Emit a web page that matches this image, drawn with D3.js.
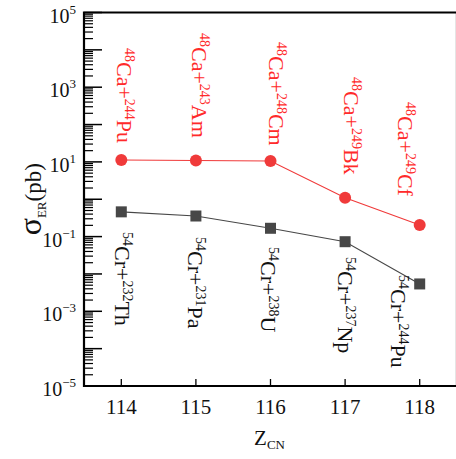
<!DOCTYPE html>
<html><head><meta charset="utf-8">
<script src="https://cdn.jsdelivr.net/npm/d3@7"></script>
</head><body style="margin:0">
<svg id="c" width="456" height="459"></svg>
<script>
// ---- data ----
const zCN = [114, 115, 116, 117, 118];
const caSigma = [11.2, 10.9, 10.6, 1.1, 0.205];
const crSigma = [0.46, 0.356, 0.167, 0.073, 0.0054];
const caTargetMass = ["244", "243", "248", "249", "249"];
const caTarget = ["Pu", "Am", "Cm", "Bk", "Cf"];
const crTargetMass = ["232", "231", "238", "237", "244"];
const crTarget = ["Th", "Pa", "U", "Np", "Pu"];
const caLabelZ = [114.04, 115.04, 116.07, 117.08, 117.80];
const caLabelTop = [11200, 28300, 16200, 1870, 400];
const crLabelZ = [114.01, 114.99, 115.97, 117.0, 117.71];
const crLabelTop = [0.133, 0.0975, 0.0526, 0.0284, 0.00938];
const xTicks = [114, 115, 116, 117, 118];
const yLabelExps = [5, 3, 1, -1, -3, -5];

// ---- layout ----
const svg = d3.select("#c");
const L = 84, R = 457, T = 12.5, B = 386;
const x = d3.scaleLinear().domain([113.5, 118.5]).range([L, R]);
const y = d3.scaleLog().domain([1e-5, 1e5]).range([B, T]);
const FONT = "Liberation Serif";
const RED = "#f03a3a", DARK = "#474747";

// y ticks
const g = svg.append("g");
const majors = d3.range(-5, 6).map(e => Math.pow(10, e));
const minors = [];
for (let e = -5; e < 5; e++) for (let m = 2; m <= 9; m++) minors.push(m * Math.pow(10, e));
g.selectAll("line.ymin").data(minors).join("line")
  .attr("x1", L).attr("x2", L + 9).attr("y1", d => y(d)).attr("y2", d => y(d))
  .attr("stroke", "#000").attr("stroke-width", 1.2);
g.selectAll("line.ymaj").data(majors).join("line")
  .attr("x1", L).attr("x2", L + 18).attr("y1", d => y(d)).attr("y2", d => y(d))
  .attr("stroke", "#000").attr("stroke-width", 1.5);
// x ticks
g.selectAll("line.xt").data(xTicks).join("line")
  .attr("x1", d => x(d)).attr("x2", d => x(d)).attr("y1", B).attr("y2", B - 7)
  .attr("stroke", "#000").attr("stroke-width", 1.3);

// frame
svg.append("path").attr("d", `M${L},${T}H${R}V${B}H${L}Z`)
  .attr("fill", "none").attr("stroke", "#000").attr("stroke-width", 2.2);

// y tick labels
yLabelExps.forEach(e => {
  const t = svg.append("text").attr("x", 76).attr("y", y(Math.pow(10, e)) + 10)
    .attr("text-anchor", "end").attr("font-family", FONT).attr("font-size", 20).attr("fill", "#111");
  t.append("tspan").text("10");
  t.append("tspan").attr("dy", -9).attr("font-size", 13).text(e < 0 ? "\u2212" + (-e) : String(e));
});
// x tick labels
svg.selectAll("text.xl").data(xTicks).join("text")
  .attr("x", d => x(d)).attr("y", 414).attr("text-anchor", "middle")
  .attr("font-family", FONT).attr("font-size", 21).attr("fill", "#111").text(d => d);

// axis titles
const xt = svg.append("text").attr("x", x(116) - 1).attr("y", 445).attr("text-anchor", "middle")
  .attr("font-family", FONT).attr("font-size", 21).attr("fill", "#111");
xt.append("tspan").text("Z");
xt.append("tspan").attr("dy", 4).attr("font-size", 13).text("CN");

const yt = svg.append("text").attr("transform", `translate(41,${(T + B) / 2}) rotate(-90)`)
  .attr("text-anchor", "middle").attr("font-family", FONT).attr("font-size", 23).attr("fill", "#111");
yt.append("tspan").attr("font-size", 32).text("\u03C3");
yt.append("tspan").attr("dy", 5).attr("font-size", 13).text("ER");
yt.append("tspan").attr("dy", -5).text("(pb)");

// lines
const line = d3.line().x(d => x(d[0])).y(d => y(d[1]));
svg.append("path").attr("d", line(d3.zip(zCN, caSigma))).attr("fill", "none").attr("stroke", RED).attr("stroke-width", 1.1);
svg.append("path").attr("d", line(d3.zip(zCN, crSigma))).attr("fill", "none").attr("stroke", DARK).attr("stroke-width", 1.1);
svg.selectAll("circle.ca").data(d3.zip(zCN, caSigma)).join("circle")
  .attr("cx", d => x(d[0])).attr("cy", d => y(d[1])).attr("r", 6).attr("fill", RED);
svg.selectAll("rect.cr").data(d3.zip(zCN, crSigma)).join("rect")
  .attr("x", d => x(d[0]) - 5.5).attr("y", d => y(d[1]) - 5.5).attr("width", 11).attr("height", 11).attr("fill", DARK);

// reaction labels (rotated 90deg, reading downward)
function reaction(px, py, pm, p, tm, tt, color) {
  const t = svg.append("text").attr("transform", `translate(${px - 7},${py}) rotate(90)`)
    .attr("font-family", FONT).attr("font-size", 22).attr("fill", color);
  t.append("tspan").attr("font-size", 14).attr("dy", -8).text(pm);
  t.append("tspan").attr("dy", 8).text(p + "+");
  t.append("tspan").attr("font-size", 14).attr("dy", -8).text(tm);
  t.append("tspan").attr("dy", 8).text(tt);
}
zCN.forEach((z, i) => {
  reaction(x(caLabelZ[i]), y(caLabelTop[i]), "48", "Ca", caTargetMass[i], caTarget[i], "#ff2a2a");
  reaction(x(crLabelZ[i]), y(crLabelTop[i]), "54", "Cr", crTargetMass[i], crTarget[i], "#111");
});
</script>
</body></html>
